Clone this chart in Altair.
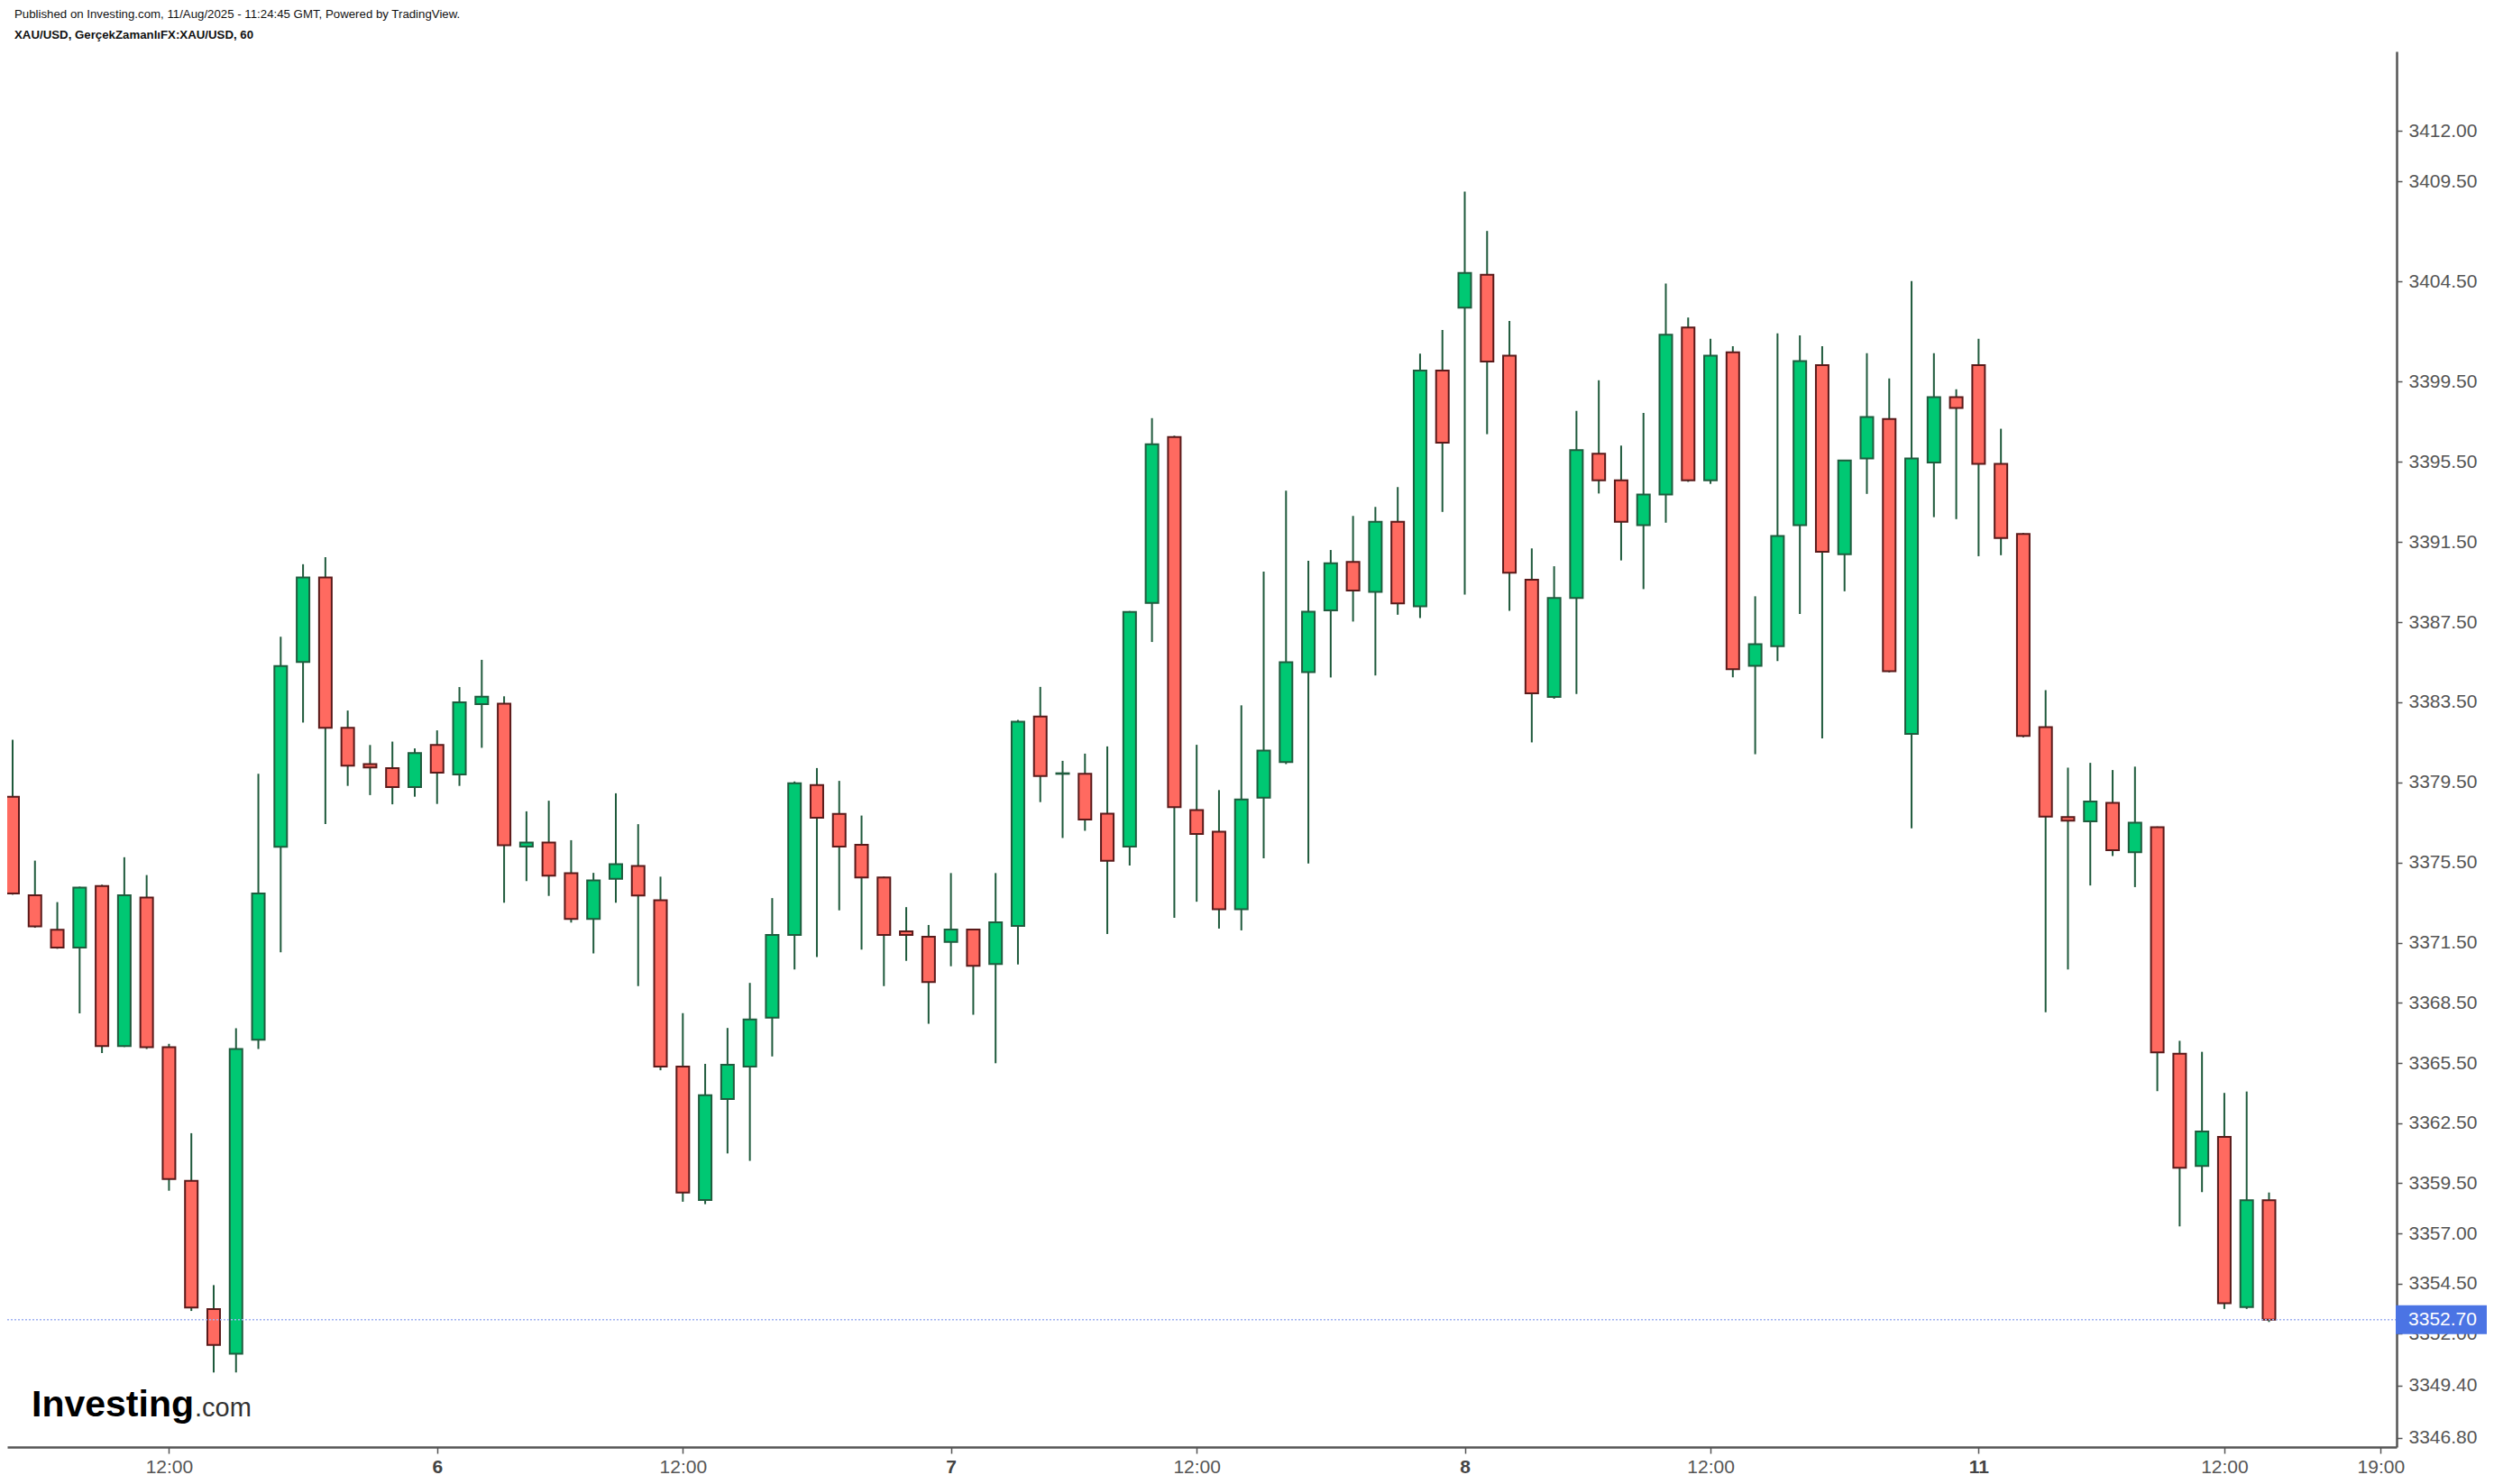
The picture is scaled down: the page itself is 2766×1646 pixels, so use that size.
import altair as alt
import pandas as pd

# ---------------- text ----------------
HEADER_LINE_1 = "Published on Investing.com, 11/Aug/2025 - 11:24:45 GMT, Powered by TradingView."
HEADER_LINE_2 = "XAU/USD, GerçekZamanlıFX:XAU/USD, 60"
LOGO_MAIN = "Investing"
LOGO_SUFFIX = ".com"

# ---------------- hourly XAU/USD candles (Aug 5 05:00 -> Aug 11 14:00, GMT+3) ----------------
open_vals = [
    3378.79, 3373.87, 3372.15, 3371.26, 3374.33, 3366.35, 3373.76, 3366.29, 3359.62, 3353.22,
    3351.00, 3366.66, 3376.29, 3385.51, 3389.73, 3382.23, 3380.42, 3380.22, 3379.27, 3381.37,
    3379.90, 3383.41, 3383.43, 3376.30, 3376.50, 3374.97, 3372.69, 3374.69, 3375.33, 3373.63,
    3365.33, 3358.67, 3363.70, 3365.33, 3367.76, 3371.89, 3379.37, 3377.93, 3376.39, 3374.76,
    3372.07, 3371.80, 3371.54, 3372.16, 3370.44, 3372.34, 3382.79, 3379.93, 3379.93, 3377.94,
    3376.30, 3388.46, 3396.74, 3378.12, 3377.04, 3373.17, 3378.74, 3380.52, 3385.01, 3388.09,
    3390.51, 3389.01, 3392.51, 3388.29, 3400.06, 3403.19, 3404.84, 3400.80, 3389.62, 3383.77,
    3388.71, 3395.91, 3394.58, 3392.34, 3393.87, 3402.20, 3394.58, 3400.97, 3385.32, 3386.30,
    3392.34, 3400.33, 3390.89, 3395.67, 3397.64, 3381.92, 3395.47, 3398.73, 3400.33, 3395.40,
    3391.90, 3382.26, 3377.78, 3377.56, 3378.48, 3376.02, 3377.27, 3365.96, 3360.37, 3361.81,
    3353.32, 3358.65,
]
high_vals = [
    3381.63, 3375.60, 3373.53, 3374.30, 3374.40, 3375.77, 3374.88, 3366.46, 3362.00, 3354.42,
    3367.24, 3379.93, 3386.77, 3390.39, 3390.74, 3383.09, 3381.37, 3381.54, 3381.20, 3382.10,
    3384.26, 3385.62, 3383.80, 3378.06, 3378.59, 3376.62, 3374.99, 3378.96, 3377.42, 3374.80,
    3367.99, 3365.46, 3367.25, 3369.50, 3373.73, 3379.55, 3380.22, 3379.58, 3377.85, 3374.80,
    3373.28, 3372.39, 3374.98, 3372.20, 3374.98, 3382.62, 3384.27, 3380.58, 3380.94, 3381.30,
    3388.05, 3397.68, 3396.80, 3381.38, 3379.12, 3383.35, 3390.02, 3394.06, 3390.56, 3391.10,
    3392.80, 3393.25, 3394.24, 3400.90, 3402.08, 3408.99, 3407.02, 3402.53, 3391.18, 3390.29,
    3398.04, 3399.57, 3396.31, 3397.94, 3404.40, 3402.70, 3401.64, 3401.27, 3388.79, 3401.91,
    3401.81, 3401.27, 3395.60, 3400.92, 3399.66, 3404.52, 3400.92, 3399.12, 3401.64, 3397.15,
    3391.95, 3384.11, 3380.24, 3380.48, 3380.12, 3380.29, 3377.30, 3366.61, 3366.06, 3364.01,
    3364.08, 3359.04,
]
low_vals = [
    3373.90, 3372.25, 3371.20, 3367.98, 3366.00, 3366.30, 3366.20, 3359.13, 3353.13, 3350.06,
    3350.06, 3366.20, 3371.03, 3382.49, 3377.43, 3379.33, 3378.87, 3378.41, 3378.79, 3378.43,
    3379.33, 3381.23, 3373.50, 3374.58, 3373.84, 3372.51, 3370.97, 3373.50, 3369.34, 3365.14,
    3358.58, 3358.46, 3360.99, 3360.62, 3365.83, 3370.17, 3370.79, 3373.12, 3371.16, 3369.34,
    3370.60, 3367.46, 3370.33, 3367.91, 3365.49, 3370.42, 3378.52, 3376.73, 3377.09, 3371.94,
    3375.36, 3386.51, 3372.75, 3373.55, 3372.21, 3372.12, 3375.72, 3380.42, 3375.46, 3384.74,
    3387.53, 3384.84, 3387.87, 3387.70, 3393.00, 3388.88, 3396.88, 3388.07, 3381.50, 3383.68,
    3383.92, 3393.92, 3390.58, 3389.15, 3392.46, 3394.50, 3394.40, 3384.75, 3380.91, 3385.56,
    3387.91, 3381.70, 3389.04, 3393.90, 3385.00, 3377.21, 3392.74, 3392.64, 3390.79, 3390.84,
    3381.75, 3368.04, 3370.17, 3374.36, 3375.83, 3374.28, 3364.10, 3357.35, 3359.06, 3353.23,
    3353.23, 3352.58,
]
close_vals = [
    3373.96, 3372.32, 3371.26, 3374.25, 3366.35, 3373.87, 3366.29, 3359.71, 3353.30, 3351.44,
    3366.20, 3373.96, 3385.31, 3389.73, 3382.23, 3380.34, 3380.25, 3379.27, 3380.97, 3379.99,
    3383.50, 3383.78, 3376.37, 3376.50, 3374.85, 3372.69, 3374.62, 3375.42, 3373.86, 3365.33,
    3359.04, 3363.90, 3365.42, 3367.67, 3371.89, 3379.46, 3377.74, 3376.30, 3374.76, 3371.89,
    3371.89, 3369.54, 3372.16, 3370.35, 3372.52, 3382.53, 3379.82, 3379.96, 3377.65, 3375.59,
    3388.01, 3396.38, 3378.27, 3376.93, 3373.17, 3378.65, 3381.09, 3385.50, 3388.02, 3390.44,
    3389.08, 3392.51, 3388.44, 3400.06, 3396.46, 3404.92, 3400.50, 3389.97, 3383.95, 3388.71,
    3396.09, 3394.58, 3392.51, 3393.87, 3401.84, 3394.58, 3400.80, 3385.15, 3386.40, 3391.80,
    3400.53, 3391.01, 3395.57, 3397.74, 3385.05, 3395.67, 3398.73, 3398.19, 3395.40, 3391.70,
    3381.82, 3377.80, 3377.60, 3378.55, 3376.12, 3377.49, 3366.03, 3360.27, 3362.08, 3353.52,
    3358.65, 3352.70,
]

# ---------------- axis ticks ----------------
x_tick_index = [7, 19, 30, 42, 53, 65, 76, 88, 99, 106]
x_tick_labels = ["12:00", "6", "12:00", "7", "12:00", "8", "12:00", "11", "12:00", "19:00"]
x_day_ticks = [19, 42, 65, 88]

y_tick_values = [3412.00, 3409.50, 3404.50, 3399.50, 3395.50, 3391.50, 3387.50, 3383.50,
                 3379.50, 3375.50, 3371.50, 3368.50, 3365.50, 3362.50, 3359.50, 3357.00,
                 3354.50, 3352.00, 3349.40, 3346.80]

# ---------------- styling ----------------
UP_FILL = "#00c873"
DOWN_FILL = "#ff6a60"
UP_EDGE = "#1f5c3e"
DOWN_EDGE = "#5a1a1a"
WICK = "#1f5a3c"
AXIS_GREY = "#555555"
PRICE_BLUE = "#4b74e4"
FONT = "Liberation Sans, Arial, sans-serif"

W, H = 2650, 1548

df = pd.DataFrame({
    "idx": list(range(len(open_vals))),
    "open": open_vals,
    "high": high_vals,
    "low": low_vals,
    "close": close_vals,
})
df["dir"] = ["up" if c >= o else "down" for o, c in zip(open_vals, close_vals)]

last_price = close_vals[-1]
price_df = pd.DataFrame({"price": [last_price], "label": [f"{last_price:.2f}"]})

idx_list = "[" + ",".join(str(v) for v in x_tick_index) + "]"
lab_list = "[" + ",".join("'" + s + "'" for s in x_tick_labels) + "]"
day_list = "[" + ",".join(str(v) for v in x_day_ticks) + "]"
is_day = f"indexof({day_list}, datum.value) >= 0"

x_axis = alt.Axis(
    values=x_tick_index,
    labelExpr=f"{lab_list}[indexof({idx_list}, datum.value)]",
    labelFontWeight=alt.condition(is_day, alt.value("bold"), alt.value("normal")),
    labelColor=alt.condition(is_day, alt.value("#444444"), alt.value(AXIS_GREY)),
    labelFontSize=21, labelFont=FONT, labelPadding=4,
    labelOverlap=False, labelFlush=False,
    domainColor=AXIS_GREY, domainWidth=2.5,
    tickColor=AXIS_GREY, tickSize=7, tickWidth=1.5,
    grid=False, title=None,
)
y_axis = alt.Axis(
    orient="right", values=y_tick_values, format=".2f",
    labelFontSize=21, labelFont=FONT, labelColor=AXIS_GREY, labelPadding=7,
    labelOverlap=False, labelBound=False, labelFlush=False,
    domainColor=AXIS_GREY, domainWidth=2.5,
    tickColor=AXIS_GREY, tickSize=6, tickWidth=1.5,
    grid=False, title=None,
)

x_scale = alt.Scale(domain=[-0.04, 106.51], nice=False, zero=False)
y_scale = alt.Scale(domain=[3346.34, 3415.98], nice=False, zero=False)

wicks = alt.Chart(df).mark_rule(color=WICK, strokeWidth=2, clip=True).encode(
    x=alt.X("idx:Q", scale=x_scale, axis=x_axis),
    y=alt.Y("low:Q", scale=y_scale, axis=y_axis),
    y2="high:Q",
)

bodies = alt.Chart(df).mark_bar(width=14, strokeWidth=2, clip=True).encode(
    x=alt.X("idx:Q", title=None),
    y=alt.Y("open:Q", title=None),
    y2="close:Q",
    fill=alt.Fill("dir:N", scale=alt.Scale(domain=["up", "down"], range=[UP_FILL, DOWN_FILL]), legend=None),
    stroke=alt.Stroke("dir:N", scale=alt.Scale(domain=["up", "down"], range=[UP_EDGE, DOWN_EDGE]), legend=None),
)

price_line = alt.Chart(price_df).mark_rule(color="#9fb2f2", strokeDash=[2, 2], strokeWidth=1.5).encode(
    y=alt.Y("price:Q", title=None),
)

BOX_W, BOX_H = 102, 32
box_path = f"M-1,-{BOX_H / BOX_W:.4f}H1V{BOX_H / BOX_W:.4f}H-1Z"
price_box = alt.Chart(price_df).mark_point(
    shape=box_path, size=BOX_W ** 2, filled=True, color=PRICE_BLUE, opacity=1, strokeWidth=0
).encode(
    x=alt.value(W + 50),
    y=alt.Y("price:Q", title=None),
)
price_text = alt.Chart(price_df).mark_text(
    color="white", fontSize=21, font=FONT, align="center", baseline="middle"
).encode(
    x=alt.value(W + 51),
    y=alt.Y("price:Q", title=None),
    text="label:N",
)

header1 = alt.Chart(pd.DataFrame({"t": [HEADER_LINE_1]})).mark_text(
    align="left", baseline="middle", fontSize=13.25, font=FONT, color="#111111"
).encode(x=alt.value(8), y=alt.value(-41), text="t:N")
header2 = alt.Chart(pd.DataFrame({"t": [HEADER_LINE_2]})).mark_text(
    align="left", baseline="middle", fontSize=13.25, font=FONT, fontWeight="bold", color="#111111"
).encode(x=alt.value(8), y=alt.value(-18), text="t:N")

logo_main = alt.Chart(pd.DataFrame({"t": [LOGO_MAIN]})).mark_text(
    align="left", baseline="alphabetic", fontSize=41, font=FONT, fontWeight="bold",
    color="#000000"
).encode(x=alt.value(27), y=alt.value(H - 34), text="t:N")
logo_suffix = alt.Chart(pd.DataFrame({"t": [LOGO_SUFFIX]})).mark_text(
    align="left", baseline="alphabetic", fontSize=29, font=FONT, color="#333333"
).encode(x=alt.value(208), y=alt.value(H - 34), text="t:N")

chart = alt.layer(
    wicks, bodies, price_line, price_box, price_text, header1, header2, logo_main, logo_suffix
).properties(
    width=W, height=H,
    padding={"left": 0, "top": 49, "right": 100, "bottom": 33},
    autosize=alt.AutoSizeParams(type="none"),
    background="white",
).configure_view(stroke=None)

chart.save("out.html", embed_options={"renderer": "svg", "actions": False})
